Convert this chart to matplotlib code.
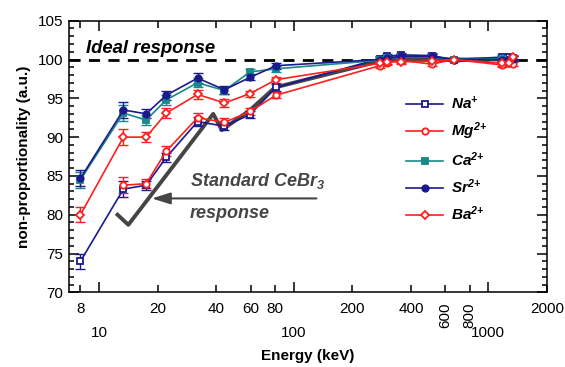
import numpy as np
import matplotlib
matplotlib.use("Agg")
import matplotlib.pyplot as plt
from matplotlib.lines import Line2D

plt.rcParams['font.family'] = ['Liberation Sans', 'DejaVu Sans']
plt.rcParams['mathtext.fontset'] = 'custom'
plt.rcParams['mathtext.rm'] = 'Liberation Sans:italic:bold'
plt.rcParams['mathtext.it'] = 'Liberation Sans:italic:bold'
plt.rcParams['mathtext.bf'] = 'Liberation Sans:italic:bold'
plt.rcParams['mathtext.default'] = 'rm'

# Energies of the measured lines (keV)
energy = [8, 13.3, 17.4, 22.1, 32, 44, 59.5, 81, 276, 303, 356, 511, 662, 1173, 1275, 1332]

# Non-proportionality per co-dopant (a.u.)
na = [74.0, 83.3, 83.8, 87.4, 92.0, 91.4, 92.9, 96.4, 100.1, 100.4, 100.6, 100.5, 100.0, 100.3, 100.3, 100.2]
mg = [np.nan, 83.8, 84.0, 88.2, 92.5, 91.9, 93.3, 95.4, 99.2, 99.6, 99.9, 99.4, 100.0, 99.3, 99.5, 99.4]
ca = [84.5, 93.1, 92.2, 94.8, 97.0, 96.0, 98.4, 98.8, 99.9, 100.2, 100.3, 100.3, 100.0, 100.1, 100.0, 100.1]
sr = [84.7, 93.5, 93.0, 95.4, 97.6, 96.1, 97.7, 99.2, 100.0, 100.2, 100.4, 100.4, 100.0, 100.0, 100.1, 100.1]
ba = [80.0, 90.0, 90.0, 93.1, 95.5, 94.4, 95.6, 97.4, 99.5, 99.7, 99.7, 99.8, 100.0, 99.5, 99.6, 100.3]
err = [1.0, 1.0, 0.6, 0.6, 0.6, 0.5, 0.4, 0.4, 0.3, 0.3, 0.3, 0.3, 0.2, 0.3, 0.3, 0.3]

# Standard CeBr3 response (gray curve)
cebr3_energy = [12.4, 14.1, 38.5, 42.6, 59.6, 80, 300, 1332]
cebr3_value = [80.0, 78.7, 93.0, 90.9, 93.5, 96.4, 100.0, 100.0]

navy = '#1a1a8f'
red = '#ff1f1f'
teal = '#17898a'
gray = '#454545'
series = [
    (na, r'Na$^{+}$', navy, 's', 'white'),
    (mg, r'Mg$^{\text{2+}}$', red, 'o', 'white'),
    (ca, r'Ca$^{\text{2+}}$', teal, 's', teal),
    (sr, r'Sr$^{\text{2+}}$', navy, 'o', navy),
    (ba, r'Ba$^{\text{2+}}$', red, 'D', 'white'),
]

fig = plt.figure(figsize=(5.65, 3.67), dpi=100)
ax = fig.add_axes([0.1214, 0.2035, 0.8466, 0.7401])

ax.axhline(100, color='black', lw=2, ls=(0, (4, 3)), zorder=1)
ax.plot(cebr3_energy, cebr3_value, color=gray, lw=2.8, zorder=1.5)

handles = []
for vals, label, col, mk, face in series:
    ms = 4.6 if mk != 'D' else 4.4
    ax.errorbar(energy, vals, yerr=err, fmt='none', ecolor=col, elinewidth=1,
                capsize=3.5, capthick=1, zorder=2)
    ax.plot(energy, vals, color=col, lw=1.2, marker=mk, ms=ms,
            mfc=face, mec=col, mew=1.3, zorder=3)
    handles.append(Line2D([], [], color=col, lw=1.2, marker=mk, ms=ms,
                          mfc=face, mec=col, mew=1.3, label=label))

ax.set_xscale('log')
ax.set_xlim(6.95, 2000)
ax.set_ylim(70, 105)

major_x = [10, 100, 1000]
minor_x = [8, 20, 40, 60, 80, 200, 400, 600, 800, 2000]
ax.set_xticks(major_x)
ax.set_xticklabels([str(v) for v in major_x])
ax.set_xticks(minor_x, minor=True)
ax.set_xticklabels([str(v) for v in minor_x], minor=True)
for lab in ax.get_xticklabels(minor=True):
    if lab.get_text() in ('600', '800'):
        lab.set_rotation(90)
ax.set_yticks(np.arange(70, 106, 5))
ax.set_yticks(np.arange(70, 106, 1), minor=True)

ax.tick_params(which='both', direction='in', top=True, right=True, labelsize=11, width=1.1)
ax.tick_params(axis='x', which='major', length=7, pad=24)
ax.tick_params(axis='x', which='minor', length=5, pad=7)
ax.tick_params(axis='y', which='major', length=7, pad=4)
ax.tick_params(axis='y', which='minor', length=3.5)
for s in ax.spines.values():
    s.set_linewidth(1.1)

ax.set_xlabel('Energy (keV)', fontsize=11, fontweight='bold', labelpad=7)
ax.set_ylabel('non-proportionality (a.u.)', fontsize=11, fontweight='bold', labelpad=5)

ax.text(8.55, 101.4, 'Ideal response', fontsize=13.3, fontweight='bold', style='italic',
        va='center', ha='left')
ax.text(29.3, 84.4, r'Standard CeBr$_{3}$', fontsize=13, fontweight='bold', style='italic',
        color=gray, va='center', ha='left')
ax.text(29.3, 80.2, 'response', fontsize=13, fontweight='bold', style='italic',
        color=gray, va='center', ha='left')
ax.annotate('', xy=(18.0, 82.1), xytext=(135, 82.1),
            arrowprops=dict(arrowstyle='-|>,head_length=0.8,head_width=0.25', color=gray,
                            lw=1.5, mutation_scale=14))

ax.legend(handles=handles, loc='center left', bbox_to_anchor=(0.69, 0.49),
          frameon=False, borderpad=0, handlelength=2.4,
          handletextpad=0.55, labelspacing=0.55,
          prop={'weight': 'bold', 'style': 'italic', 'size': 11})

fig.savefig('out.png', dpi=100)
